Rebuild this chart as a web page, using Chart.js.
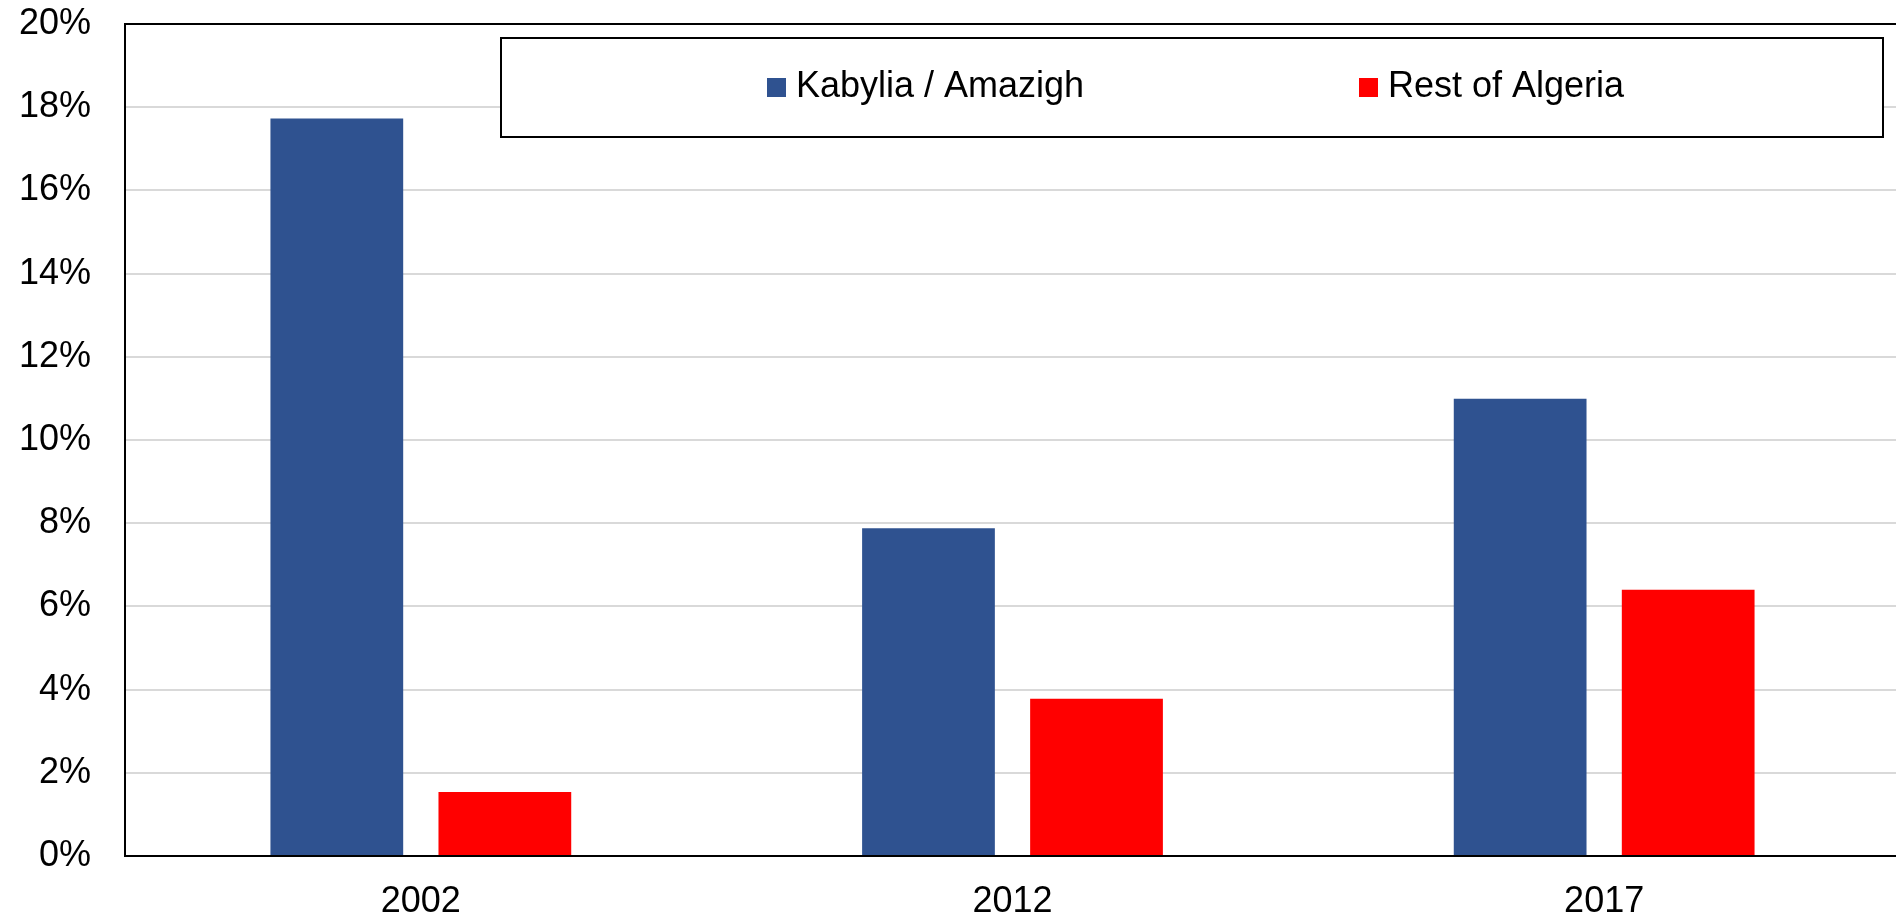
<!DOCTYPE html>
<html>
<head>
<meta charset="utf-8">
<script src="https://cdn.jsdelivr.net/npm/chart.js@4.4.0/dist/chart.umd.min.js"></script>
<style>
html,body{margin:0;padding:0;background:#fff;overflow:hidden;}
#wrap{position:absolute;left:0;top:0;width:1902px;height:918px;}
</style>
</head>
<body>
<div id="wrap"><canvas id="c" width="1902" height="918"></canvas></div>
<script>
const categories = ['2002', '2012', '2017'];
const kabyliaValues = [17.73, 7.88, 10.99];
const restValues = [1.54, 3.78, 6.40];
const seriesNames = ['Kabylia / Amazigh', 'Rest of Algeria'];
const seriesColors = ['#2F5290', '#FF0000'];
const yTicks = [0, 2, 4, 6, 8, 10, 12, 14, 16, 18, 20];

const FONT = '"Liberation Sans", Arial, sans-serif';

const frameAndLegend = {
  id: 'frameAndLegend',
  afterDraw(chart) {
    const ctx = chart.ctx;
    const a = chart.chartArea;
    ctx.save();
    // top border of plot area
    ctx.strokeStyle = '#000';
    ctx.lineWidth = 2;
    ctx.beginPath();
    ctx.moveTo(a.left, a.top);
    ctx.lineTo(a.right, a.top);
    ctx.stroke();
    // legend box
    const bx = 501, by = 38, bw = 1382, bh = 99;
    ctx.fillStyle = '#fff';
    ctx.fillRect(bx, by, bw, bh);
    ctx.lineWidth = 2;
    ctx.strokeRect(bx, by, bw, bh);
    const itemX = [767, 1359];
    ctx.font = '36px ' + FONT;
    ctx.textBaseline = 'middle';
    ctx.textAlign = 'left';
    chart.data.datasets.forEach((ds, i) => {
      ctx.fillStyle = ds.backgroundColor;
      ctx.fillRect(itemX[i], 78, 19, 19);
      ctx.fillStyle = '#000';
      ctx.fillText(ds.label, itemX[i] + 29, 87);
    });
    ctx.restore();
  }
};

new Chart(document.getElementById('c'), {
  type: 'bar',
  data: {
    labels: categories,
    datasets: [
      { label: seriesNames[0], data: kabyliaValues, backgroundColor: seriesColors[0] },
      { label: seriesNames[1], data: restValues, backgroundColor: seriesColors[1] }
    ]
  },
  options: {
    responsive: false,
    animation: false,
    devicePixelRatio: 1,
    layout: { padding: { top: 24, right: 2, left: 0, bottom: 0 } },
    categoryPercentage: 0.568,
    barPercentage: 0.79,
    plugins: { legend: { display: false }, tooltip: { enabled: false }, title: { display: false } },
    scales: {
      x: {
        grid: { display: false, drawTicks: false },
        border: { display: true, color: '#000', width: 2 },
        ticks: { color: '#000', font: { family: FONT, size: 36 }, padding: 24 },
        afterFit(s) { s.height = 62; }
      },
      y: {
        min: 0, max: 20,
        afterBuildTicks(s) { s.ticks = yTicks.map(v => ({ value: v })); },
        grid: { color: '#D9D9D9', lineWidth: 2, drawTicks: false },
        border: { display: true, color: '#000', width: 2 },
        ticks: { color: '#000', font: { family: FONT, size: 36 }, padding: 34, callback: v => v + '%' },
        afterFit(s) { s.width = 125; s.paddingTop = 0; s.paddingBottom = 0; }
      }
    }
  },
  plugins: [frameAndLegend]
});
</script>
</body>
</html>
